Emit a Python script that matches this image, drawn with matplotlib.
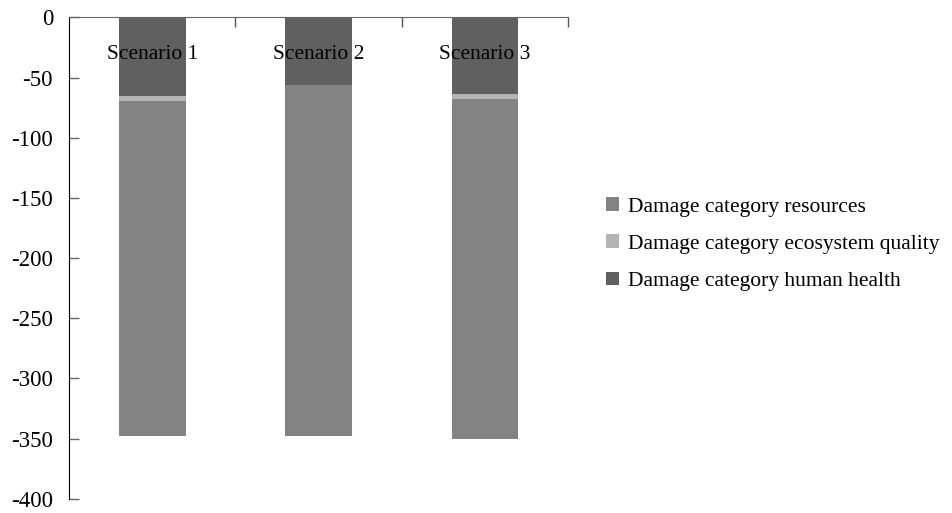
import matplotlib
matplotlib.use("Agg")
import matplotlib.pyplot as plt
import numpy as np

plt.rcParams['font.family'] = ['Liberation Serif', 'DejaVu Serif']
plt.rcParams['axes.unicode_minus'] = False

categories = ["Scenario 1", "Scenario 2", "Scenario 3"]
human_health = [-65.5, -56.0, -64.0]
ecosystem_quality = [-4.0, -0.5, -3.5]
resources = [-278.5, -291.5, -282.5]
yticks = [0, -50, -100, -150, -200, -250, -300, -350, -400]

c_res = "#838383"
c_eco = "#b4b4b4"
c_hh = "#606060"

fig = plt.figure(figsize=(9.53, 5.13), dpi=100)
ax = fig.add_axes([0.0724, 0.0279, 0.5240, 0.9380])

x = np.arange(len(categories))
hh = np.array(human_health)
eco = np.array(ecosystem_quality)
res = np.array(resources)
w = 0.4
b1 = ax.bar(x, hh, w, color=c_hh, label="Damage category human health")
b2 = ax.bar(x, eco, w, bottom=hh, color=c_eco, label="Damage category ecosystem quality")
b3 = ax.bar(x, res, w, bottom=hh + eco, color=c_res, label="Damage category resources")

ax.set_xlim(-0.5, 2.5)
ax.set_ylim(-400, 0)
ax.set_yticks(yticks)
ax.set_yticklabels([str(v) for v in yticks], fontsize=16.5)
ax.tick_params(axis='y', direction='in', length=7, width=1, pad=11.5, color='#666666')
ax.set_xticks([0.5, 1.5, 2.5])
ax.set_xticklabels([])
ax.xaxis.set_ticks_position('top')
ax.tick_params(axis='x', direction='in', length=7, width=1, color='#555555')

for i, c in enumerate(categories):
    ax.text(x[i], -31, c, ha='center', va='center', fontsize=15.5)

ax.spines['right'].set_visible(False)
ax.spines['bottom'].set_visible(False)
ax.spines['top'].set_color('#666666')
ax.spines['left'].set_color('black')

handles = [b3, b2, b1]
fig.legend(handles, [h.get_label() for h in handles],
           loc='center left', bbox_to_anchor=(0.636, 0.524), frameon=False,
           borderaxespad=0, borderpad=0,
           fontsize=15.5, handlelength=0.6, handleheight=0.6, handletextpad=0.42,
           labelspacing=0.83)

fig.savefig("out.png", dpi=100)
